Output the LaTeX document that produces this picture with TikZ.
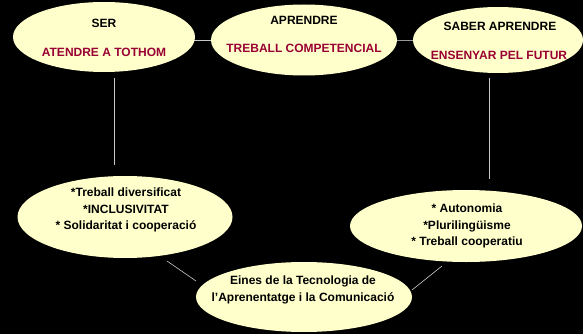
\documentclass[tikz,border=0pt]{standalone}
\usepackage{fontspec}
\setmainfont{Liberation Sans}
\usetikzlibrary{shapes.geometric,arrows.meta}
\definecolor{pale}{HTML}{FFFFCC}
\definecolor{wine}{HTML}{990033}
\definecolor{conn}{HTML}{C8C8C8}
\tikzset{
  bubble/.style={ellipse, fill=pale, draw=none, inner sep=0pt},
  txt/.style={font=\bfseries\fontsize{12}{16.8}\selectfont, text=black, align=center},
  redtxt/.style={txt, text=wine},
  conline/.style={draw=conn, line width=0.6pt},
}
\begin{document}
\begin{tikzpicture}[x=1pt,y=-1pt]
\fill[black] (0,0) rectangle (583,334);
\useasboundingbox (0,0) rectangle (583,334);
% connectors behind
\coordinate (l1a) at (114,78);
\coordinate (l1b) at (114,165);
\coordinate (l2a) at (489,78);
\coordinate (l2b) at (489,179);
\coordinate (l3a) at (167,261);
\coordinate (l3b) at (196,281);
\coordinate (l4a) at (442,266);
\coordinate (l4b) at (412,290);
\coordinate (h1a) at (186,40);
\coordinate (h1b) at (215,40);
\coordinate (h2a) at (395,40);
\coordinate (h2b) at (416,40);
\draw[conline,-{Stealth[length=3pt,width=3pt]}] (h1a) -- (h1b);
\draw[conline, draw=gray!80] (h2a) -- (h2b);
\draw[conline] (l1a) -- (l1b);
\draw[conline] (l2a) -- (l2b);
\draw[conline] (l3a) -- (l3b);
\draw[conline] (l4a) -- (l4b);
% ellipses
\node[bubble, minimum width=182pt, minimum height=70pt] (e1) at (104,37) {};
\node[bubble, minimum width=186pt, minimum height=71pt] (e2) at (304,40) {};
\node[bubble, minimum width=170pt, minimum height=66pt] (e3) at (498,40) {};
\node[bubble, minimum width=215pt, minimum height=82pt] (e4) at (125,217) {};
\node[bubble, minimum width=232pt, minimum height=72pt] (e5) at (466,226) {};
\node[bubble, minimum width=216pt, minimum height=70pt] (e6) at (304,297) {};
% texts
\node[txt] (t1a) at (104,23) {SER};
\node[redtxt] (t1b) at (104,52) {ATENDRE A TOTHOM};
\node[txt] (t2a) at (304,20) {APRENDRE};
\node[redtxt] (t2b) at (304,48) {TREBALL COMPETENCIAL};
\node[txt] (t3a) at (500,26) {SABER APRENDRE};
\node[redtxt] (t3b) at (499,55) {ENSENYAR PEL FUTUR};
\node[txt] (t4) at (126,210) {*Treball diversificat\\*INCLUSIVITAT\\* Solidaritat i cooperació};
\node[txt] (t5) at (467,226) {* Autonomia\\*Plurilingüisme\\* Treball cooperatiu};
\node[txt] (t6) at (303,290) {Eines de la Tecnologia de\\l’Aprenentatge i la Comunicació};
\end{tikzpicture}
\end{document}
